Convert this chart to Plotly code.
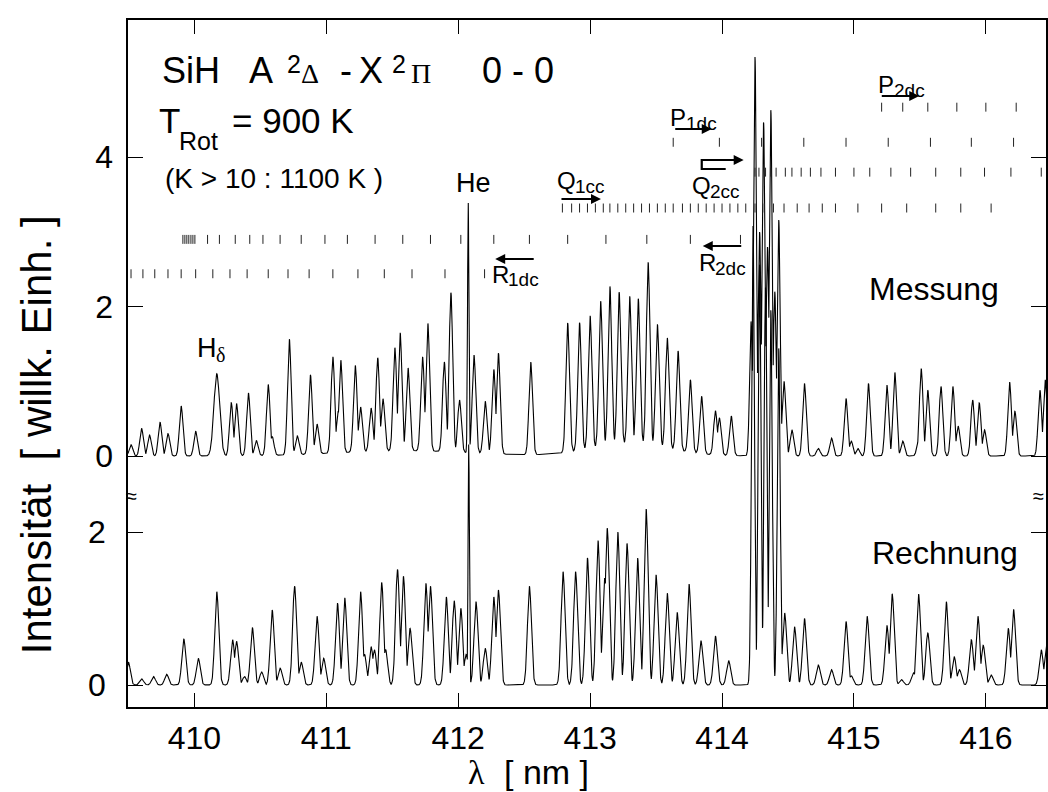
import numpy as np
import plotly.graph_objects as go

# ---------------- spectra: line positions [nm] and peak intensities [arb. u.] ----------------
# measured spectrum (Messung), SiH lines
mess_lam = [409.52, 409.60, 409.66, 409.74, 409.80, 409.90, 410.01, 410.28, 410.32, 410.41,
            410.47, 410.56, 410.59, 410.72, 410.78, 410.88, 410.93, 411.05, 411.09, 411.11,
            411.22, 411.26, 411.34, 411.39, 411.43, 411.52, 411.56, 411.62, 411.73, 411.77,
            411.895, 411.945, 412.01, 412.12, 412.205, 412.27, 412.305, 412.55, 412.83, 412.92,
            413.00, 413.08, 413.15, 413.22, 413.30, 413.365, 413.44, 413.51, 413.585, 413.667,
            413.76, 413.845, 413.95, 413.98, 414.07, 414.22, 414.25, 414.285, 414.315, 414.345,
            414.37, 414.40, 414.43, 414.47, 414.53, 414.625, 414.73, 414.83, 414.94, 414.98,
            415.03, 415.11, 415.25, 415.31, 415.37, 415.49, 415.51, 415.56, 415.66, 415.75,
            415.79, 415.90, 415.95, 415.99, 416.18, 416.22, 416.41, 416.45]
mess_int = [0.15, 0.37, 0.28, 0.45, 0.30, 0.67, 0.33, 0.71, 0.70, 0.84,
            0.20, 0.95, 0.25, 1.55, 0.25, 1.06, 0.40, 1.29, 0.55, 1.24,
            1.16, 0.60, 0.58, 1.25, 0.70, 1.38, 1.58, 1.11, 1.26, 1.71,
            1.20, 2.13, 0.70, 1.31, 0.70, 1.13, 1.35, 1.24, 1.73, 1.71,
            1.78, 1.95, 2.13, 2.04, 1.98, 1.95, 2.45, 1.64, 1.48, 1.33,
            0.97, 0.77, 0.59, 0.50, 0.53, 1.80, 5.34, 3.00, 4.47, 2.80,
            4.63, 2.20, 3.16, 1.00, 0.35, 0.97, 0.10, 0.24, 0.77, 0.20,
            0.10, 0.97, 0.95, 1.12, 0.20, 0.20, 1.17, 0.88, 0.93, 0.93,
            0.40, 0.75, 0.71, 0.35, 0.99, 0.60, 0.88, 1.02]
# atomic lines in the measurement: H-delta and He I
mess_atom_lam = [410.17, 412.076]
mess_atom_int = [1.10, 3.36]
mess_atom_sig = [0.022, 0.005]
# broad underlying continuum of the measurement
mess_bg_lam = [411.6, 413.3]
mess_bg_int = [0.07, 0.16]
mess_bg_sig = [0.5, 0.3]

# calculated spectrum (Rechnung)
rech_lam = [409.50, 409.60, 409.69, 409.79, 409.92, 410.03, 410.17, 410.29, 410.32, 410.38,
            410.44, 410.51, 410.59, 410.65, 410.76, 410.81, 410.93, 410.98, 411.085, 411.14,
            411.26, 411.29, 411.34, 411.365, 411.42, 411.45, 411.54, 411.585, 411.635, 411.755,
            411.79, 411.91, 411.97, 412.02, 412.06, 412.135, 412.205, 412.27, 412.305, 412.54,
            412.795, 412.89, 412.98, 413.06, 413.11, 413.13, 413.21, 413.28, 413.36, 413.425,
            413.50, 413.585, 413.66, 413.75, 413.84, 413.95, 414.05, 414.235, 414.285, 414.33,
            414.37, 414.43, 414.475, 414.55, 414.625, 414.73, 414.83, 414.94, 414.98, 415.10,
            415.25, 415.29, 415.36, 415.45, 415.49, 415.56, 415.70, 415.76, 415.80, 415.89,
            415.94, 415.98, 416.04, 416.17, 416.21, 416.42, 416.46]
rech_int = [0.30, 0.08, 0.11, 0.14, 0.60, 0.35, 1.22, 0.59, 0.57, 0.11,
            0.75, 0.17, 0.98, 0.22, 1.29, 0.30, 0.90, 0.35, 1.07, 1.14,
            1.22, 0.40, 0.50, 0.46, 1.34, 0.46, 1.51, 1.42, 0.74, 1.33,
            1.29, 1.15, 1.10, 1.00, 0.40, 1.09, 0.48, 1.15, 1.24, 1.29,
            1.48, 1.48, 1.66, 1.89, 1.40, 2.05, 2.00, 1.85, 1.66, 2.30,
            1.44, 1.20, 0.95, 1.32, 0.58, 0.64, 0.32, 6.00, 5.50, 5.20,
            4.90, 4.40, 0.94, 0.76, 0.87, 0.26, 0.20, 0.83, 0.12, 0.90,
            0.78, 1.19, 0.07, 0.16, 1.19, 0.68, 1.09, 0.37, 0.20, 0.59,
            0.90, 0.52, 0.13, 0.74, 0.99, 0.46, 0.50]
rech_atom_lam = [412.08]
rech_atom_int = [3.16]
rech_atom_sig = [0.005]

# ---------------- line assignments (branch positions) [nm] ----------------
p2dc_lam = [415.21, 415.37, 415.56, 415.78, 416.00, 416.23]
p1dc_lam = [413.63, 413.98, 414.30, 414.62, 414.94, 415.26, 415.58, 415.89, 416.21]
q2cc_lam = [414.25, 414.28, 414.33, 414.37, 414.41, 414.48, 414.53, 414.60, 414.67, 414.75,
            414.86, 415.00, 415.12, 415.28, 415.43, 415.62, 415.81, 415.99, 416.19, 416.42]
q1cc_lam = [412.79, 412.86, 412.92, 412.98, 413.04, 413.10, 413.15, 413.21, 413.27, 413.33,
            413.39, 413.45, 413.51, 413.57, 413.63, 413.70, 413.76, 413.82, 413.88, 413.94,
            414.00, 414.06, 414.12, 414.18, 414.25, 414.32, 414.39, 414.47, 414.57, 414.66,
            414.76, 414.86, 415.03, 415.21, 415.40, 415.62, 415.81, 416.04]
r2dc_lam = [409.913, 409.928, 409.943, 409.958, 409.974, 409.989, 410.004, 410.10, 410.19, 410.31,
            410.42, 410.52, 410.65, 410.81, 410.99, 411.16, 411.37, 411.58, 411.79, 412.02,
            412.27, 412.54, 412.83, 413.12, 413.43, 413.76, 414.14]
r1dc_lam = [409.52, 409.61, 409.70, 409.80, 409.90, 410.01, 410.14, 410.27, 410.40, 410.56,
            410.71, 410.87, 411.05, 411.24, 411.44, 411.65, 411.90, 412.20]

x_ticks = [410, 411, 412, 413, 414, 415, 416]

# ---------------- drawing ----------------
SANS = "Liberation Sans, Arial, Helvetica, sans-serif"
SERIF = "Liberation Serif, Times New Roman, serif"
W, H = 1048, 792
ML, MR, MT, MB = 128, 0, 20, 85
PW, PH = W - ML - MR, H - MT - MB


def px(x):
    return (x - ML) / PW


def py(y):
    return (H - MB - y) / PH


def spectrum(grid, lam, amp, sig):
    lam = np.asarray(lam)[None, :]
    amp = np.asarray(amp)[None, :]
    sig = np.asarray(sig)[None, :]
    return (amp * np.exp(-0.5 * ((grid[:, None] - lam) / sig) ** 2)).max(axis=1)


def continuum(grid, lam, amp, sig):
    lam = np.asarray(lam)[None, :]
    amp = np.asarray(amp)[None, :]
    sig = np.asarray(sig)[None, :]
    return (amp * np.exp(-0.5 * ((grid[:, None] - lam) / sig) ** 2)).sum(axis=1)


grid = np.arange(409.45, 416.50, 0.0015)


def sig_for(lam, base):
    # the unresolved band head is drawn slightly narrower
    return [0.011 if 414.2 < l < 414.45 else base for l in lam]


mess = np.maximum(spectrum(grid, mess_lam, mess_int, sig_for(mess_lam, 0.0135)),
                  spectrum(grid, mess_atom_lam, mess_atom_int, mess_atom_sig))
mess = mess + continuum(grid, mess_bg_lam, mess_bg_int, mess_bg_sig)
rech = np.maximum(spectrum(grid, rech_lam, rech_int, sig_for(rech_lam, 0.015)),
                  spectrum(grid, rech_atom_lam, rech_atom_int, rech_atom_sig))

fig = go.Figure()
fig.add_trace(go.Scatter(x=grid, y=rech, mode="lines", yaxis="y",
                         line=dict(color="black", width=1.1), hoverinfo="skip"))
fig.add_trace(go.Scatter(x=grid, y=mess, mode="lines", yaxis="y2",
                         line=dict(color="black", width=1.1), hoverinfo="skip"))

# assignment marks, one row per branch (levels in upper-trace units)
rows = [(p2dc_lam, 4.67), (p1dc_lam, 4.20), (q2cc_lam, 3.80),
        (q1cc_lam, 3.32), (r2dc_lam, 2.90), (r1dc_lam, 2.44)]
mx, my = [], []
for lams, lev in rows:
    for l in lams:
        mx += [l, l, None]
        my += [lev - 0.06, lev + 0.06, None]
fig.add_trace(go.Scatter(x=mx, y=my, mode="lines", yaxis="y2",
                         line=dict(color="#222", width=1), hoverinfo="skip"))


def txt(s, x, y, size, xanchor="left", family=SANS, angle=0):
    return dict(text=s, x=px(x), y=py(y), xref="paper", yref="paper", showarrow=False,
                xanchor=xanchor, yanchor="middle", textangle=angle, borderpad=0,
                font=dict(size=size, family=family, color="black"))


def arrow(x0, y0, x1, y1):
    return dict(text="", x=px(x1), y=py(y1), xref="paper", yref="paper",
                ax=x0 - x1, ay=y0 - y1, axref="pixel", ayref="pixel", showarrow=True,
                arrowhead=2, arrowsize=1, arrowwidth=2, arrowcolor="black", standoff=0)


ann = [
    # heading
    txt("SiH", 161, 70.5, 36),
    txt("A", 248, 70.5, 36),
    txt("2", 286, 64, 25),
    txt("Δ", 300, 73.5, 28, family=SERIF),
    txt("-", 339, 70.5, 36),
    txt("X", 359, 70.5, 36),
    txt("2", 392, 64, 25),
    txt("Π", 411, 73.5, 28, family=SERIF),
    txt("0 - 0", 482, 70.5, 36),
    txt("T", 158, 121, 35),
    txt("Rot", 178, 141, 25),
    txt("= 900 K", 231, 121, 35),
    txt("(K > 10 : 1100 K )", 164, 178, 28),
    txt("He", 456, 183, 27),
    txt("H", 196, 348, 27),
    txt("δ", 215, 355, 20, family=SERIF),
    txt("Messung", 936, 289, 32, xanchor="center"),
    txt("Rechnung", 947, 553, 32, xanchor="center"),
    # branch labels
    txt("P", 879, 85, 24), txt("2dc", 895, 91, 19),
    txt("P", 670, 117, 24), txt("1dc", 686, 123, 19),
    txt("Q", 692, 185, 24), txt("2cc", 710, 191, 19),
    txt("Q", 557, 180, 24), txt("1cc", 575, 186, 19),
    txt("R", 492, 274, 24), txt("1dc", 508, 280, 19),
    txt("R", 699, 262, 24), txt("2dc", 715, 268, 19),
    arrow(882, 96, 921, 96),
    arrow(675, 129, 713, 129),
    arrow(703, 160, 745, 160),
    arrow(561, 199, 602, 199),
    arrow(536, 259, 496, 259),
    arrow(744, 246, 704, 246),
    # axis breaks
    txt("≈", 132, 496, 20, xanchor="center"),
    txt("≈", 1040, 496, 20, xanchor="center"),
    # axis titles
    txt("Intensität  [ willk. Einh. ]", 36, 435, 42, xanchor="center", angle=-90),
    txt("λ", 477, 772, 34, xanchor="center", family=SERIF),
    txt("[ nm ]", 504, 772, 34),
]

shapes = [dict(type="path", xref="paper", yref="paper",
               path=f"M {px(727)},{py(169)} L {px(703)},{py(169)} L {px(703)},{py(160)} L {px(712)},{py(160)}",
               line=dict(color="black", width=2.2))]

axis_common = dict(ticks="inside", tickcolor="black", tickwidth=1.2, showgrid=False,
                   zeroline=False, linecolor="black", linewidth=1.5,
                   tickfont=dict(size=32, family=SANS, color="black"))

fig.update_layout(
    width=W, height=H, margin=dict(l=ML, r=MR, t=MT, b=MB),
    paper_bgcolor="white", plot_bgcolor="white", showlegend=False,
    font=dict(family=SANS, color="black"),
    xaxis=dict(range=[409.497, 416.456], tickvals=x_ticks, ticklen=14, showline=True,
               mirror="ticks", ticklabelstandoff=2, **axis_common),
    yaxis=dict(range=[-0.2876, 8.693], tickvals=[0, 2], ticklen=15, showline=True,
               mirror="ticks", ticklabelstandoff=14, **axis_common),
    yaxis2=dict(range=[-3.360, 5.837], tickvals=[0, 2, 4], ticklen=15, showline=False,
                overlaying="y", side="left", mirror="ticks", ticklabelstandoff=14,
                **axis_common),
    annotations=ann, shapes=shapes,
)

fig.write_html("out.html")
